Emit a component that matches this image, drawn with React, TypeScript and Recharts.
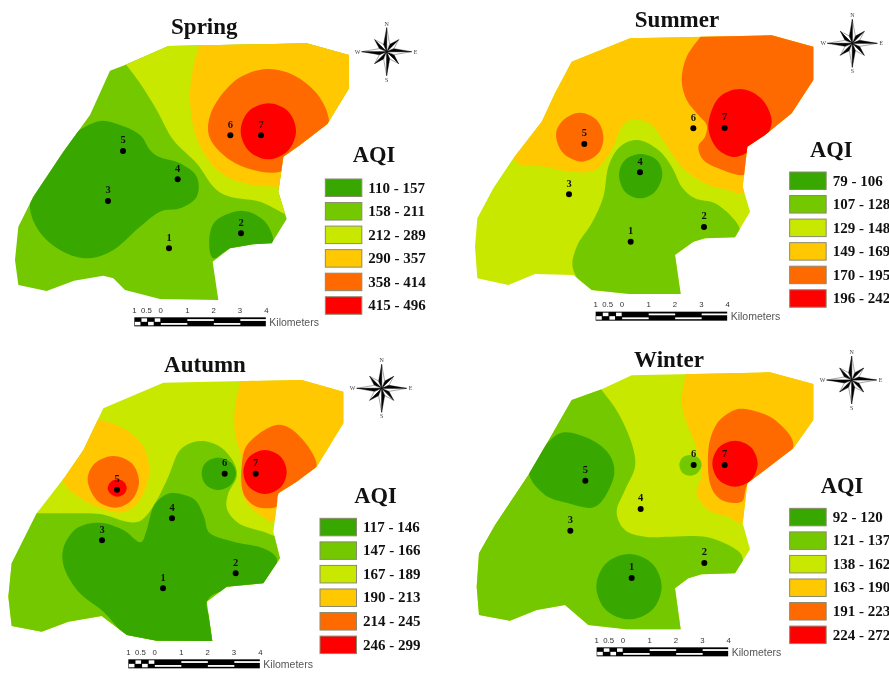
import React from "react";
import { ScatterChart, Scatter, XAxis, YAxis, LabelList } from "recharts";

type P = [number, number];

// Map units: 3 per screen pixel within a panel
const SEASONS = ["Spring", "Summer", "Autumn", "Winter"];
const COLORS = { dark: "#38a800", green: "#74c800", lime: "#c8e800", amber: "#ffc800", orange: "#ff6a00", red: "#ff0000" };
const RAMP = [COLORS.dark, COLORS.green, COLORS.lime, COLORS.amber, COLORS.orange, COLORS.red];

const springClasses = ["110 - 157", "158 - 211", "212 - 289", "290 - 357", "358 - 414", "415 - 496"];
const summerClasses = ["79 - 106", "107 - 128", "129 - 148", "149 - 169", "170 - 195", "196 - 242"];
const autumnClasses = ["117 - 146", "147 - 166", "167 - 189", "190 - 213", "214 - 245", "246 - 299"];
const winterClasses = ["92 - 120", "121 - 137", "138 - 162", "163 - 190", "191 - 223", "224 - 272"];

const scaleTicks: [string, number][] = [["1", 0], ["0.5", 36], ["0", 79], ["1", 159], ["2", 238], ["3", 317], ["4", 396]];

const springSites: P[] = [[507, 745], [723, 700], [324, 603], [533, 538], [369, 453], [691, 406], [783, 406]];
const summerSites: P[] = [[557, 725], [777, 681], [372, 583], [585, 517], [418, 432], [745, 385], [839, 384]];
const autumnSites: P[] = [[489, 745], [707, 700], [306, 601], [516, 535], [351, 449], [674, 401], [767, 401]];
const winterSites: P[] = [[560, 714], [778, 669], [376, 572], [587, 507], [421, 422], [746, 375], [839, 375]];

const springBorder: P[] = [[505, 138], [920, 130], [1047, 165], [1047, 265], [982, 372], [900, 435], [850, 470], [835, 575], [860, 657], [815, 730], [760, 733], [690, 745], [638, 785], [655, 900], [480, 897], [375, 870], [340, 835], [310, 827], [222, 842], [140, 873], [55, 855], [45, 780], [55, 680], [100, 590], [190, 455], [270, 345], [330, 212], [375, 195]];
const summerBorder: P[] = [[555, 115], [980, 106], [1105, 140], [1105, 240], [1040, 340], [960, 405], [907, 440], [893, 560], [915, 635], [870, 712], [780, 715], [745, 725], [690, 765], [707, 882], [555, 882], [440, 870], [385, 825], [270, 822], [190, 855], [97, 835], [90, 740], [97, 655], [145, 565], [205, 475], [290, 365], [330, 280], [380, 185]];
const autumnBorder: P[] = [[490, 128], [905, 120], [1030, 155], [1030, 250], [950, 380], [890, 425], [835, 460], [820, 575], [840, 655], [790, 730], [680, 740], [620, 785], [637, 903], [470, 902], [380, 885], [305, 828], [205, 845], [125, 875], [35, 858], [25, 770], [35, 670], [110, 520], [195, 410], [250, 330], [310, 205]];
const winterBorder: P[] = [[560, 106], [975, 97], [1105, 132], [1105, 240], [1045, 325], [960, 390], [907, 430], [893, 550], [915, 628], [870, 700], [770, 703], [730, 715], [690, 745], [707, 868], [545, 868], [430, 855], [360, 795], [275, 810], [195, 842], [102, 825], [95, 740], [102, 640], [150, 555], [250, 405], [320, 285], [380, 180], [470, 148]];

const springZones: [string, P[]][] = [
  [COLORS.lime, [[340, 140], [375, 190], [420, 250], [470, 330], [520, 420], [590, 490], [640, 560], [690, 590], [780, 605], [855, 642], [920, 670], [1120, 500], [1120, 60], [500, 60]]],
  [COLORS.amber, [[615, 60], [600, 130], [578, 210], [570, 300], [585, 400], [625, 480], [680, 530], [760, 555], [835, 560], [900, 560], [1120, 400], [1120, 60]]],
  [COLORS.orange, [[800, 207], [880, 225], [950, 280], [985, 350], [975, 400], [905, 465], [840, 515], [760, 510], [690, 480], [635, 425], [625, 370], [650, 305], [715, 235]]],
  [COLORS.red, [[805, 310], [864, 334], [888, 393], [864, 452], [805, 478], [746, 452], [722, 393], [746, 334]]],
  [COLORS.dark, [[290, 365], [360, 375], [420, 405], [450, 450], [480, 472], [540, 490], [590, 530], [590, 590], [540, 625], [480, 635], [420, 680], [340, 750], [260, 775], [180, 750], [115, 690], [90, 610], [130, 520], [200, 420]]],
  [COLORS.dark, [[725, 632], [790, 660], [820, 720], [800, 770], [700, 745], [640, 775], [628, 715], [650, 660]]],
];
const summerZones: [string, P[]][] = [
  [COLORS.amber, [[150, 420], [205, 475], [230, 495], [300, 500], [380, 515], [450, 510], [500, 450], [530, 380], [570, 358], [620, 375], [660, 430], [710, 500], [780, 550], [850, 570], [900, 577], [1000, 500], [1130, 60], [500, 60], [300, 200]]],
  [COLORS.orange, [[790, 70], [770, 105], [725, 170], [710, 240], [725, 300], [760, 345], [785, 375], [780, 410], [760, 440], [775, 480], [820, 505], [895, 525], [950, 480], [1150, 300], [1150, 60]]],
  [COLORS.orange, [[405, 338], [455, 360], [475, 410], [460, 460], [410, 485], [355, 460], [333, 405], [355, 360]]],
  [COLORS.red, [[885, 267], [948, 295], [980, 360], [958, 418], [905, 458], [860, 470], [812, 440], [790, 375], [820, 295]]],
  [COLORS.green, [[580, 420], [640, 450], [680, 500], [710, 560], [750, 595], [810, 610], [860, 650], [885, 690], [870, 730], [780, 720], [700, 770], [710, 900], [560, 895], [440, 875], [385, 810], [395, 740], [440, 670], [475, 590], [490, 500], [525, 440]]],
  [COLORS.dark, [[587, 462], [635, 480], [652, 525], [630, 575], [585, 595], [540, 575], [522, 525], [540, 480]]],
];
const autumnZones: [string, P[]][] = [
  [COLORS.amber, [[745, 70], [725, 115], [705, 200], [705, 280], [725, 360], [722, 440], [745, 495], [790, 530], [825, 540], [900, 450], [1100, 200], [1050, 60]]],
  [COLORS.orange, [[830, 255], [900, 290], [950, 375], [900, 430], [835, 465], [830, 500], [770, 500], [730, 460], [725, 380], [745, 310]]],
  [COLORS.red, [[795, 330], [842, 350], [860, 396], [842, 442], [795, 462], [748, 442], [730, 396], [748, 350]]],
  [COLORS.amber, [[300, 240], [370, 265], [430, 320], [447, 400], [420, 480], [365, 517], [290, 500], [220, 460], [190, 425], [150, 350], [220, 230]]],
  [COLORS.orange, [[340, 348], [395, 370], [417, 425], [395, 480], [345, 503], [290, 480], [263, 420], [285, 370]]],
  [COLORS.red, [[352, 418], [372, 426], [380, 445], [372, 462], [352, 470], [332, 462], [323, 445], [332, 426]]],
  [COLORS.green, [[60, 520], [110, 520], [200, 520], [300, 522], [380, 545], [425, 540], [465, 490], [505, 410], [540, 330], [600, 303], [660, 320], [700, 365], [710, 410], [685, 460], [682, 510], [725, 555], [815, 585], [900, 650], [800, 950], [0, 950], [0, 650]]],
  [COLORS.dark, [[530, 460], [585, 480], [612, 530], [630, 580], [700, 605], [790, 625], [832, 665], [790, 740], [680, 750], [620, 790], [645, 920], [470, 910], [380, 885], [310, 815], [240, 760], [195, 690], [190, 625], [230, 565], [300, 548], [370, 570], [420, 607], [440, 570], [460, 500], [495, 465]]],
  [COLORS.dark, [[655, 353], [692, 367], [708, 400], [692, 435], [655, 450], [618, 435], [605, 400], [618, 367]]],
];
const winterZones: [string, P[]][] = [
  [COLORS.green, [[430, 100], [470, 150], [520, 220], [560, 310], [570, 380], [540, 450], [515, 515], [540, 570], [600, 590], [680, 590], [780, 590], [860, 620], [893, 655], [870, 710], [700, 760], [720, 900], [300, 900], [50, 850], [50, 600], [200, 350]]],
  [COLORS.amber, [[735, 60], [725, 95], [710, 180], [725, 250], [750, 310], [770, 400], [755, 460], [790, 510], [850, 530], [895, 545], [960, 450], [1150, 200], [1100, 60]]],
  [COLORS.orange, [[900, 207], [990, 240], [1045, 320], [960, 400], [907, 435], [890, 485], [830, 480], [795, 430], [790, 330], [810, 260], [850, 220]]],
  [COLORS.red, [[870, 302], [918, 322], [938, 371], [918, 420], [870, 440], [822, 420], [802, 371], [822, 322]]],
  [COLORS.dark, [[350, 278], [430, 295], [490, 340], [508, 400], [480, 470], [440, 503], [370, 490], [300, 465], [252, 400], [290, 330]]],
  [COLORS.dark, [[552, 642], [622, 671], [650, 740], [622, 809], [552, 838], [482, 809], [454, 740], [482, 671]]],
  [COLORS.green, [[735, 345], [760, 353], [770, 375], [758, 398], [735, 407], [712, 398], [703, 375], [712, 353]]],
];

const toPts = (a: P[]) => a.map(([x, y]) => ({ x, y }));

function smoothPath(pts: { x: number; y: number }[]) {
  const n = pts.length;
  let d = `M${pts[0].x},${pts[0].y}`;
  for (let i = 0; i < n; i++) {
    const p0 = pts[(i - 1 + n) % n], p1 = pts[i], p2 = pts[(i + 1) % n], p3 = pts[(i + 2) % n];
    d += `C${p1.x + (p2.x - p0.x) / 6},${p1.y + (p2.y - p0.y) / 6} ${p2.x - (p3.x - p1.x) / 6},${p2.y - (p3.y - p1.y) / 6} ${p2.x},${p2.y}`;
  }
  return d + "Z";
}

const NoDot = () => null;

function Compass({ cx, cy }: any) {
  const arms: { a: number; r: number }[] = [
    { a: 45, r: 17 }, { a: 135, r: 17 }, { a: 225, r: 17 }, { a: 315, r: 17 },
    { a: 0, r: 24 }, { a: 90, r: 25 }, { a: 180, r: 24 }, { a: 270, r: 25 },
  ];
  const pt = (a: number, r: number) => {
    const t = (a * Math.PI) / 180;
    return `${cx + r * Math.sin(t)},${cy - r * Math.cos(t)}`;
  };
  return (
    <g>
      {arms.map(({ a, r }, i) => (
        <g key={i}>
          <polygon points={`${cx},${cy} ${pt(a, r)} ${pt(a + 22, 8)}`} fill="#fff" stroke="#222" strokeWidth={0.4} />
          <polygon points={`${cx},${cy} ${pt(a, r)} ${pt(a - 22, 8)}`} fill="#000" stroke="#000" strokeWidth={0.4} />
        </g>
      ))}
      {[["N", 0, -26], ["S", 0, 30], ["W", -29, 2], ["E", 29, 2]].map(([t, dx, dy]) => (
        <text key={t as string} x={cx + (dx as number)} y={cy + (dy as number)} fontFamily="Liberation Serif" fontSize={6} textAnchor="middle" fill="#444">{t}</text>
      ))}
    </g>
  );
}

function ScaleBar({ cx, cy }: any) {
  const unit = 79.5 / 3;
  const h = 9;
  const cells: React.ReactNode[] = [];
  for (let i = 0; i < 4; i++) {
    const x = cx + (i * unit) / 4;
    cells.push(<rect key={`s${i}`} x={x + 0.5} y={cy + (i % 2 ? 1 : h / 2)} width={unit / 4 - 1} height={h / 2 - 1} fill="#fff" />);
  }
  for (let i = 0; i < 4; i++) {
    const x = cx + unit + i * unit;
    cells.push(<rect key={`k${i}`} x={x} y={cy + (i % 2 ? 1.8 : h / 2 + 1.2)} width={unit} height={1.8} fill="#fff" />);
  }
  return (
    <g>
      <rect x={cx} y={cy} width={unit * 5 - 1} height={h} fill="#000" />
      {cells}
      {scaleTicks.map(([t, dx], i) => (
        <text key={i} x={cx + dx / 3} y={cy - 4.5} fontFamily="Liberation Sans" fontSize={7.8} textAnchor="middle" fill="#333">{t}</text>
      ))}
      <text x={cx + 135} y={cy + 8.5} fontFamily="Liberation Sans" fontSize={10.5} fill="#555">Kilometers</text>
    </g>
  );
}

function Legend({ cx, cy, classes, aqiX, aqiY, swW, textDx }: any) {
  return (
    <g>
      <text x={aqiX} y={aqiY} fontFamily="Liberation Serif" fontWeight="bold" fontSize={22.5} fill="#111">AQI</text>
      {classes.map((c: string, i: number) => (
        <g key={c}>
          <rect x={cx} y={cy + i * 23.55} width={swW} height={17.5} fill={RAMP[i]} stroke="#8a8a70" strokeWidth={1} />
          <text x={cx + textDx} y={cy + i * 23.55 + 13.5} fontFamily="Liberation Serif" fontWeight="bold" fontSize={15} fill="#111">{c}</text>
        </g>
      ))}
    </g>
  );
}

type Cfg = {
  name: string; left: number; top: number; width: number; base: string;
  border: P[]; zones: [string, P[]][]; sites: P[]; classes: string[];
  title: P; compass: P; bar: P; legend: P; aqi: P;
};

const panels: Cfg[] = [
  { name: SEASONS[0], left: 0, top: 0, width: 445, base: COLORS.green, border: springBorder, zones: springZones, sites: springSites, classes: springClasses, title: [613, 103], compass: [1160, 155], bar: [403, 952], legend: [976, 537], aqi: [1058, 487] },
  { name: SEASONS[1], left: 445, top: 0, width: 444, base: COLORS.lime, border: summerBorder, zones: summerZones, sites: summerSites, classes: summerClasses, title: [696, 80], compass: [1222, 130], bar: [452, 935], legend: [1034, 516], aqi: [1095, 470] },
  { name: SEASONS[2], left: 0, top: 340, width: 445, base: COLORS.lime, border: autumnBorder, zones: autumnZones, sites: autumnSites, classes: autumnClasses, title: [615, 97], compass: [1145, 145], bar: [385, 958], legend: [960, 535], aqi: [1063, 490] },
  { name: SEASONS[3], left: 445, top: 340, width: 444, base: COLORS.lime, border: winterBorder, zones: winterZones, sites: winterSites, classes: winterClasses, title: [672, 82], compass: [1220, 120], bar: [455, 922], legend: [1034, 505], aqi: [1127, 460] },
];

function Panel({ cfg }: { cfg: Cfg }) {
  const clipId = `clip-${cfg.name}`;
  const siteData = cfg.sites.map(([x, y], i) => ({ x, y, id: i + 1 }));
  return (
    <div style={{ position: "absolute", left: cfg.left, top: cfg.top }}>
      <ScatterChart width={cfg.width} height={335} margin={{ top: 0, right: 0, bottom: 0, left: 0 }}>
        <XAxis type="number" dataKey="x" hide domain={[0, cfg.width * 3]} />
        <YAxis type="number" dataKey="y" hide reversed domain={[0, 1005]} />
        <Scatter
          data={toPts(cfg.border)}
          isAnimationActive={false}
          shape={NoDot}
          line={(p: any) => {
            const pts = p.points.map((q: any) => `${q.x},${q.y}`).join(" ");
            return (
              <g>
                <defs><clipPath id={clipId}><polygon points={pts} /></clipPath></defs>
                <polygon points={pts} fill={cfg.base} />
              </g>
            );
          }}
        />
        {cfg.zones.map(([color, pts], i) => (
          <Scatter
            key={i}
            data={toPts(pts)}
            isAnimationActive={false}
            shape={NoDot}
            line={(p: any) => <path d={smoothPath(p.points)} fill={color} clipPath={`url(#${clipId})`} />}
          />
        ))}
        <Scatter
          data={siteData}
          isAnimationActive={false}
          shape={(p: any) => <circle cx={p.cx} cy={p.cy} r={3} fill="#000" />}
        >
          <LabelList dataKey="id" position="top" offset={3} fill="#111" fontFamily="Liberation Serif" fontWeight="bold" fontSize={10.5} />
        </Scatter>
        <Scatter
          data={toPts([cfg.title])}
          isAnimationActive={false}
          shape={(p: any) => <text x={p.cx} y={p.cy} textAnchor="middle" fontFamily="Liberation Serif" fontWeight="bold" fontSize={23} fill="#111">{cfg.name}</text>}
        />
        <Scatter data={toPts([cfg.compass])} isAnimationActive={false} shape={(p: any) => <Compass cx={p.cx} cy={p.cy} />} />
        <Scatter data={toPts([cfg.bar])} isAnimationActive={false} shape={(p: any) => <ScaleBar cx={p.cx} cy={p.cy} />} />
        <Scatter
          data={toPts([cfg.legend])}
          isAnimationActive={false}
          shape={(p: any) => (
            <Legend cx={p.cx} cy={p.cy} classes={cfg.classes} aqiX={cfg.aqi[0] / 3} aqiY={cfg.aqi[1] / 3} swW={36.5} textDx={43} />
          )}
        />
      </ScatterChart>
    </div>
  );
}

export default function App() {
  return (
    <div style={{ position: "absolute", left: 0, top: 0, width: 889, height: 675, overflow: "hidden", background: "#fff", filter: "blur(0.4px)" }}>
      {panels.map((c) => <Panel key={c.name} cfg={c} />)}
    </div>
  );
}
